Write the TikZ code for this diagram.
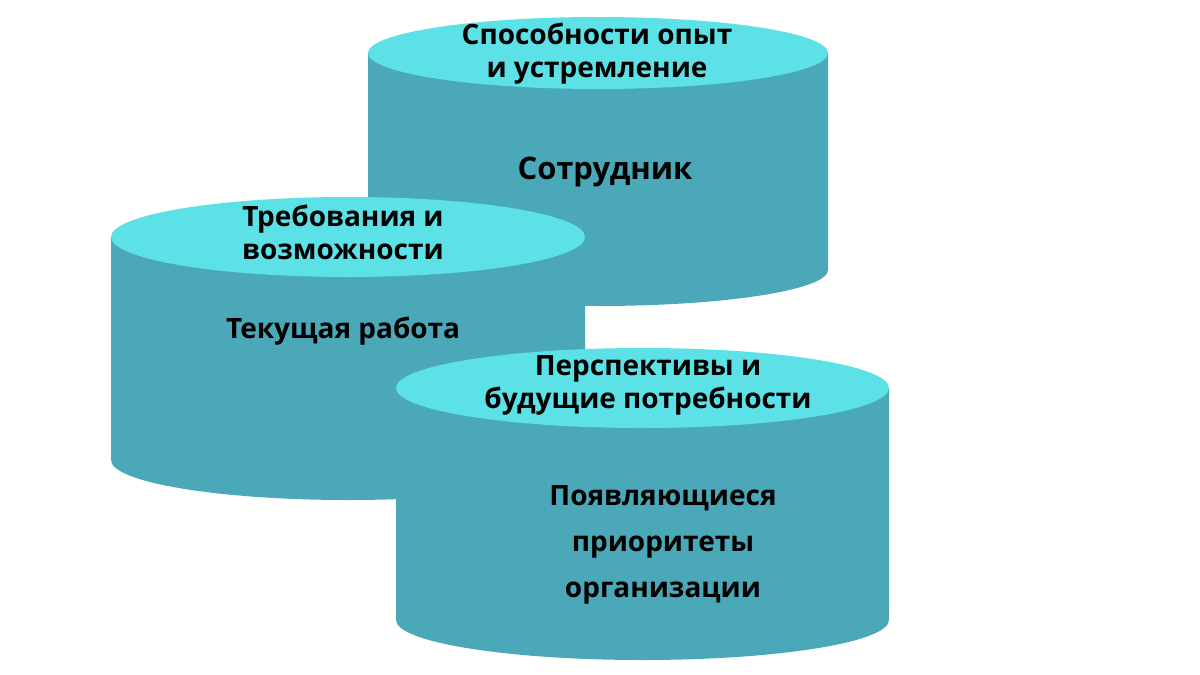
\documentclass[tikz,border=0pt]{standalone}
\usepackage{fontspec}
\setmainfont{Open Sans}
\definecolor{body}{HTML}{4AA8B8}
\definecolor{topc}{HTML}{5CE1E6}
\begin{document}
\begin{tikzpicture}[x=1pt,y=-1pt,
  lbl/.style={font=\bfseries\fontsize{28}{33}\selectfont,align=center,text=black}]
\useasboundingbox (0,0) rectangle (1200,675);
\newcommand{\cyl}[5]{% x1 x2 ytop ybot ry
  \pgfmathsetmacro{\rx}{(#2-#1)/2}
  \fill[body] (#1,#3) -- (#1,#4) arc[start angle=180,end angle=0,x radius=\rx,y radius=#5] -- (#2,#3) -- cycle;
  \fill[topc] ({(#1+#2)/2},#3) ellipse[x radius=\rx,y radius=#5];
}
\cyl{368}{828}{53}{270}{36}
\node[lbl] (a1) at (597,54) {Способности опыт\\и устремление};
\node[lbl,font=\bfseries\fontsize{31}{36}\selectfont] (a2) at (605,172) {Сотрудник};
\cyl{111}{585}{237}{460}{40}
\node[lbl] (b1) at (343,232) {Требования и\\возможности};
\node[lbl] (b2) at (343,331) {Текущая работа};
\cyl{396}{889}{388}{620}{40}
\node[lbl] (c1) at (648,385) {Перспективы и\\будущие потребности};
\node[lbl,font=\bfseries\fontsize{28}{46}\selectfont] (c2) at (663,545) {Появляющиеся\\приоритеты\\организации};
\end{tikzpicture}
\end{document}
